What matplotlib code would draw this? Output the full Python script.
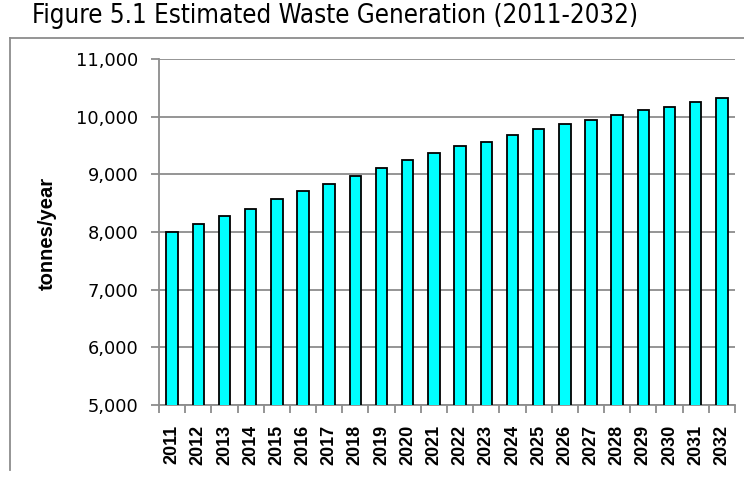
import matplotlib
matplotlib.use('Agg')
import matplotlib.pyplot as plt
from matplotlib.lines import Line2D
from matplotlib.ticker import FuncFormatter
import numpy as np

# Estimated waste generation, tonnes/year
years = [str(y) for y in range(2011, 2033)]
waste = [8000, 8139, 8272, 8405, 8568, 8707, 8839, 8972, 9111, 9245, 9377,
         9488, 9568, 9679, 9788, 9870, 9950, 10031, 10113, 10165, 10252, 10327]

grid_col = '#8c8c8c'

fig = plt.figure(figsize=(7.44, 4.83), dpi=100)
ax = fig.add_axes([159 / 744, 1 - 405 / 483, (735 - 159) / 744, (405 - 59) / 483])

x = np.arange(len(years))
ax.bar(x, waste, width=0.44, color='#00ffff', edgecolor='black', linewidth=1.3,
       zorder=3)

ax.set_ylim(5000, 11000)
ax.set_xlim(-0.5, len(years) - 0.5)
ax.set_yticks(range(5000, 11001, 1000))
ax.yaxis.set_major_formatter(FuncFormatter(lambda v, p: f'{int(v):,}'))
ax.grid(axis='y', color=grid_col, linewidth=1.3, zorder=0)

# category ticks sit between bars, labels at bar centres
ax.set_xticks(np.arange(-0.5, len(years), 1.0))
ax.set_xticklabels([])
ax.set_xticks(x, minor=True)
ax.set_xticklabels(years, minor=True, rotation=90, fontsize=13,
                   fontweight='bold', family='Liberation Sans')
ax.tick_params(axis='x', which='minor', length=0, pad=14)
ax.tick_params(axis='x', which='major', length=6, color=grid_col, width=1.3)
ax.tick_params(axis='y', length=6, color=grid_col, width=1.3, pad=9,
               labelsize=12.8)

for s in ['top', 'right']:
    ax.spines[s].set_visible(False)
for s in ['left', 'bottom']:
    ax.spines[s].set_color(grid_col)
    ax.spines[s].set_linewidth(1.3)

fig.text(47 / 744, 1 - 233 / 483, 'tonnes/year', rotation=90, ha='center',
         va='center', fontsize=14.5, fontweight='bold', family='Liberation Sans')

fig.text(32 / 744, 1 - 16 / 483, 'Figure 5.1 Estimated Waste Generation (2011-2032)',
         ha='left', va='center', fontsize=18.5, family='DejaVu Sans',
         fontstretch='condensed')

# outer frame (left and top edges only)
fig.add_artist(Line2D([10 / 744, 10 / 744], [1 - 470 / 483, 1 - 38 / 483],
                      transform=fig.transFigure, color=grid_col, linewidth=1.3))
fig.add_artist(Line2D([10 / 744, 1.0], [1 - 38 / 483, 1 - 38 / 483],
                      transform=fig.transFigure, color=grid_col, linewidth=1.3))

fig.savefig('out.png', dpi=100)
